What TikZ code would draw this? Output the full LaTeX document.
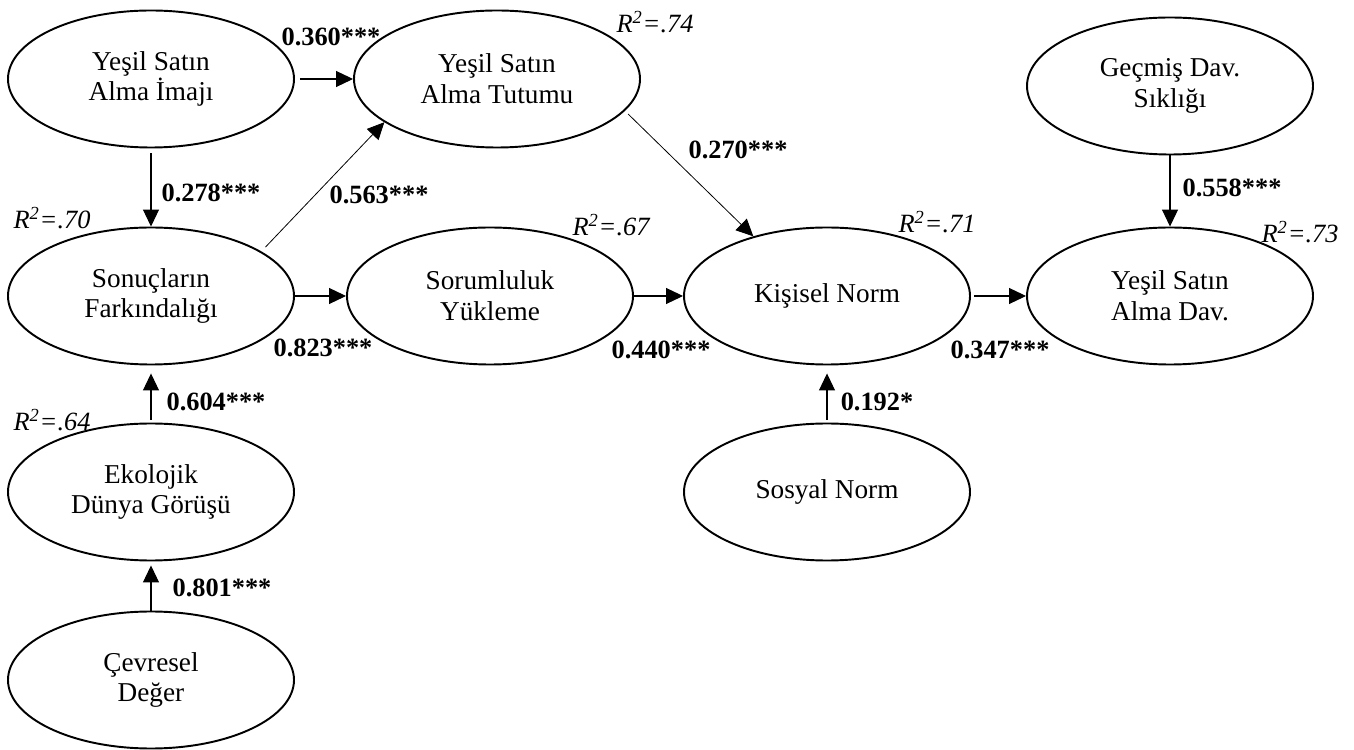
\documentclass[tikz,border=0pt]{standalone}
\usepackage{fontspec}
\setmainfont{Liberation Serif}
\usetikzlibrary{arrows.meta, positioning, shapes.geometric}

\begin{document}
\begin{tikzpicture}[
    latent/.style={
        ellipse,
        draw=black,
        line width=1.1pt,
        minimum width=5.72cm,
        minimum height=2.74cm,
        inner sep=0pt,
        align=center,
        font=\fontsize{15.5}{17.5}\selectfont
    },
    coef/.style={font=\fontsize{15}{17}\selectfont\bfseries, inner sep=0pt},
    rsq/.style={font=\fontsize{15}{17}\selectfont\itshape, inner sep=0pt},
    link/.style={-{Triangle[length=3.4mm, width=3.2mm]}, draw=black, line width=0.6pt},
    thinlink/.style={link, line width=0.45pt}
]

% Canvas
\useasboundingbox (0,0) rectangle (27.08,14.98);

% Latent constructs
\node[latent] (imaj)    at (3.02,13.40)  {Yeşil Satın\\Alma İmajı};
\node[latent] (tutum)   at (9.94,13.40)  {Yeşil Satın\\Alma Tutumu};
\node[latent] (gecmis)  at (23.40,13.26) {Geçmiş Dav.\\Sıklığı};
\node[latent] (sonuc)   at (3.02,9.06)   {Sonuçların\\Farkındalığı};
\node[latent] (sorum)   at (9.80,9.06)   {Sorumluluk\\Yükleme};
\node[latent] (kisisel) at (16.54,9.06)  {Kişisel Norm};
\node[latent] (davran)  at (23.40,9.06)  {Yeşil Satın\\Alma Dav.};
\node[latent] (ekoloji) at (3.02,5.14)   {Ekolojik\\Dünya Görüşü};
\node[latent] (sosyal)  at (16.54,5.14)  {Sosyal Norm};
\node[latent] (cevre)   at (3.02,1.38)   {Çevresel\\Değer};

% Paths
\draw[link, shorten <=1mm] (imaj.east) -- (tutum.west);
\draw[link, shorten <=1mm] (imaj.south) -- (sonuc.north);
\draw[thinlink, shorten <=1.2mm] (sonuc.22) -- (tutum.201);
\draw[link] (sonuc.east) -- (sorum.west);
\draw[link] (sorum.east) -- (kisisel.west);
\draw[thinlink, shorten <=0.9mm] (tutum.346) -- (kisisel.141);
\draw[link, shorten <=0.6mm] (kisisel.east) -- (davran.west);
\draw[link] (gecmis.south) -- (davran.north);
\draw[link, shorten <=0.6mm, shorten >=1.6mm] (sosyal.north) -- (kisisel.south);
\draw[link, shorten <=0.6mm, shorten >=1.6mm] (ekoloji.north) -- (sonuc.south);
\draw[link, shorten >=0.8mm] (cevre.north) -- (ekoloji.south);

% Path coefficients
\node[coef] (b1) at (6.62,14.24) {0.360***};
\node[coef] (b2) at (4.22,11.12) {0.278***};
\node[coef] (b3) at (7.58,11.08) {0.563***};
\node[coef] (b4) at (14.76,11.98) {0.270***};
\node[coef] (b5) at (24.64,11.22) {0.558***};
\node[coef] (b6) at (6.46,8.02) {0.823***};
\node[coef] (b7) at (13.22,7.98) {0.440***};
\node[coef] (b8) at (20.00,7.98) {0.347***};
\node[coef] (b9) at (4.32,6.94) {0.604***};
\node[coef] (b10) at (17.54,6.94) {0.192*};
\node[coef] (b11) at (4.44,3.22) {0.801***};

% Explained variance
\node[rsq] (r1) at (13.10,14.54) {R\textsuperscript{2}=.74};
\node[rsq] (r2) at (1.04,10.62) {R\textsuperscript{2}=.70};
\node[rsq] (r3) at (12.22,10.48) {R\textsuperscript{2}=.67};
\node[rsq] (r4) at (18.74,10.54) {R\textsuperscript{2}=.71};
\node[rsq] (r5) at (26.00,10.34) {R\textsuperscript{2}=.73};
\node[rsq] (r6) at (1.04,6.58) {R\textsuperscript{2}=.64};

\end{tikzpicture}
\end{document}
